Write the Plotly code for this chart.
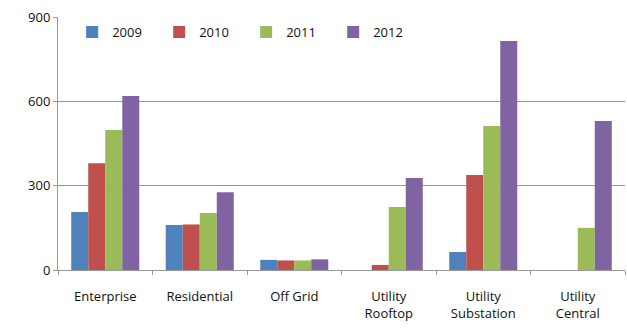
import plotly.graph_objects as go

categories = ["Enterprise", "Residential", "Off Grid", "Utility<br>Rooftop", "Utility<br>Substation", "Utility<br>Central"]
years = ["2009", "2010", "2011", "2012"]
v2009 = [206, 160, 36, 0, 64, 0]
v2010 = [380, 162, 34, 18, 338, 0]
v2011 = [498, 203, 34, 224, 512, 150]
v2012 = [619, 277, 38, 327, 815, 530]
colors = ["#4F81BD", "#C0504D", "#9BBB59", "#8064A2"]

fig = go.Figure()
for name, vals, c in zip(years, [v2009, v2010, v2011, v2012], colors):
    fig.add_trace(go.Bar(name=name, x=categories, y=vals, marker_color=c, marker_line_width=0))

fig.update_layout(
    width=627, height=333,
    margin=dict(l=58, r=2, t=17, b=63),
    paper_bgcolor="white", plot_bgcolor="white",
    barmode="group", bargap=0.28, bargroupgap=0,
    font=dict(family="Open Sans", size=12, color="#111"),
    legend=dict(orientation="h", x=0.025, y=1.0, xanchor="left", yanchor="top",
                font=dict(size=13), bgcolor="rgba(0,0,0,0)", itemwidth=30,
                tracegroupgap=0, entrywidth=42),
    showlegend=True,
)
fig.update_yaxes(range=[0, 900], tickvals=[0, 300, 600, 900], showgrid=True, gridcolor="#999",
                 gridwidth=1, showline=True, linecolor="#999", ticks="outside", ticklen=4,
                 tickcolor="#999", tickfont=dict(size=13), zeroline=False)
fig.update_xaxes(showline=True, linecolor="#999", ticks="outside", tickson="boundaries",
                 ticklen=4, tickcolor="#999", tickfont=dict(size=13), ticklabelstandoff=14)
fig.write_html("out.html")
